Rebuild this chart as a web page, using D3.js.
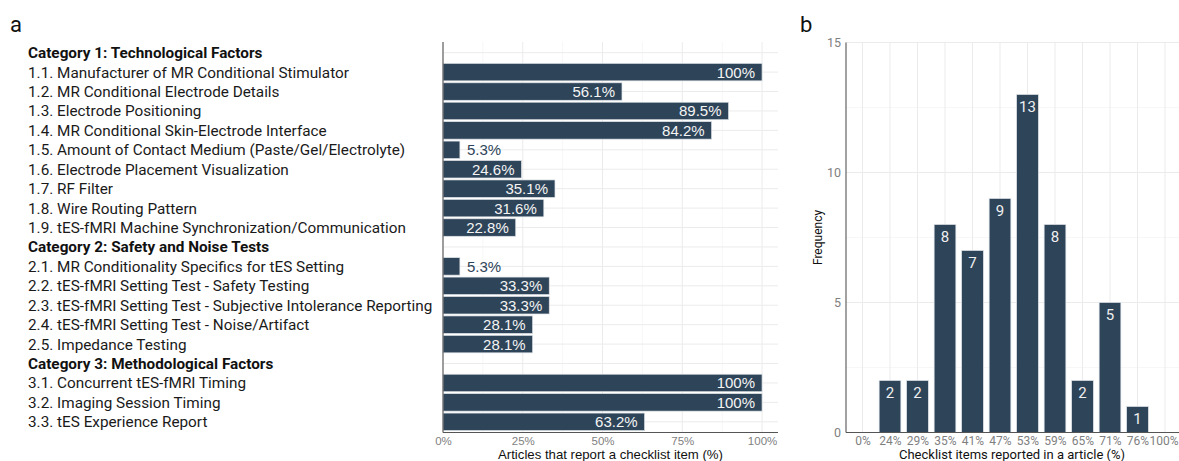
<!DOCTYPE html>
<html>
<head>
<meta charset="utf-8">
<script src="https://cdn.jsdelivr.net/npm/d3@7"></script>
<style>
  html, body { margin: 0; padding: 0; background: #ffffff; }
  svg { display: block; }
</style>
</head>
<body>
<svg id="chart" width="1179" height="461"></svg>
<script>
// ---- Panel a: checklist items (headers carry a null value) ----
const itemLabels = [
  "Category 1: Technological Factors",
  "1.1. Manufacturer of MR Conditional Stimulator",
  "1.2. MR Conditional Electrode Details",
  "1.3. Electrode Positioning",
  "1.4. MR Conditional Skin-Electrode Interface",
  "1.5. Amount of Contact Medium (Paste/Gel/Electrolyte)",
  "1.6. Electrode Placement Visualization",
  "1.7. RF Filter",
  "1.8. Wire Routing Pattern",
  "1.9. tES-fMRI Machine Synchronization/Communication",
  "Category 2: Safety and Noise Tests",
  "2.1. MR Conditionality Specifics for tES Setting",
  "2.2. tES-fMRI Setting Test - Safety Testing",
  "2.3. tES-fMRI Setting Test - Subjective Intolerance Reporting",
  "2.4. tES-fMRI Setting Test - Noise/Artifact",
  "2.5. Impedance Testing",
  "Category 3: Methodological Factors",
  "3.1. Concurrent tES-fMRI Timing",
  "3.2. Imaging Session Timing",
  "3.3. tES Experience Report"
];
const itemPercent = [
  null, 100, 56.1, 89.5, 84.2, 5.3, 24.6, 35.1, 31.6, 22.8,
  null, 5.3, 33.3, 33.3, 28.1, 28.1,
  null, 100, 100, 63.2
];
const pctTicks = [0, 25, 50, 75, 100];

// ---- Panel b: histogram of per-article reporting ----
const histBins = ["0%", "24%", "29%", "35%", "41%", "47%", "53%", "59%", "65%", "71%", "76%", "100%"];
const histCounts = [0, 2, 2, 8, 7, 9, 13, 8, 2, 5, 1, 0];
const freqTicks = [0, 5, 10, 15];

const barFill = "#2e4459";
const barEdge = "#dfe3e7";
const gridMajor = "#ebebeb";
const gridMinor = "#f5f5f5";
const axisCol = "#555555";
const tickCol = "#7f7f7f";
const sansA = "'Liberation Sans', Arial, sans-serif";
const sansB = "Roboto, sans-serif";

const svg = d3.select("#chart");

// ================= Panel a =================
const a = { left: 443, right: 778, top: 42, bottom: 432.5 };
const xA = d3.scaleLinear().domain([0, 105]).range([a.left, a.right]);
const yA = d3.scalePoint().domain(d3.range(itemLabels.length)).range([a.top, a.bottom]).padding(0.55);
const rowStep = yA.step();
const gA = svg.append("g");

// grid
gA.selectAll("line.vminor").data([12.5, 37.5, 62.5, 87.5]).join("line")
  .attr("x1", d => xA(d)).attr("x2", d => xA(d))
  .attr("y1", a.top).attr("y2", a.bottom)
  .attr("stroke", gridMinor).attr("stroke-width", 0.8);
gA.selectAll("line.vmajor").data(pctTicks).join("line")
  .attr("x1", d => xA(d)).attr("x2", d => xA(d))
  .attr("y1", a.top).attr("y2", a.bottom)
  .attr("stroke", gridMajor).attr("stroke-width", 1);
gA.selectAll("line.hmajor").data(d3.range(itemLabels.length)).join("line")
  .attr("x1", a.left).attr("x2", a.right)
  .attr("y1", d => yA(d)).attr("y2", d => yA(d))
  .attr("stroke", gridMajor).attr("stroke-width", 1);

// bars
const rowsA = itemLabels.map((label, i) => ({ i, label, v: itemPercent[i] }));
const barRows = rowsA.filter(r => r.v !== null);
const barH = rowStep * 0.9;
gA.selectAll("rect.bar").data(barRows).join("rect")
  .attr("x", xA(0))
  .attr("y", d => yA(d.i) - barH / 2)
  .attr("width", d => xA(d.v) - xA(0))
  .attr("height", barH)
  .attr("fill", barFill)
  .attr("stroke", barEdge).attr("stroke-width", 0.7);

// value labels: inside the bar end, or just outside for short bars
const fmtPct = v => (v === 100 ? "100" : d3.format(".1f")(v)) + "%";
gA.selectAll("text.val").data(barRows).join("text")
  .attr("x", d => d.v < 10 ? xA(d.v) + 7 : xA(d.v) - 7)
  .attr("y", d => yA(d.i))
  .attr("dy", "0.36em")
  .attr("text-anchor", d => d.v < 10 ? "start" : "end")
  .attr("font-family", sansA)
  .attr("font-size", 15)
  .attr("fill", d => d.v < 10 ? barFill : "#f4f4f4")
  .text(d => fmtPct(d.v));

// row labels
gA.selectAll("text.lab").data(rowsA).join("text")
  .attr("x", 28)
  .attr("y", d => yA(d.i))
  .attr("dy", "0.36em")
  .attr("font-family", sansB)
  .attr("font-size", 15.3)
  .attr("font-weight", d => d.v === null ? "bold" : "normal")
  .attr("fill", d => d.v === null ? "#111111" : "#1a1a1a")
  .text(d => d.label);

// axis lines
gA.append("line").attr("x1", a.left).attr("x2", a.left).attr("y1", a.top).attr("y2", a.bottom)
  .attr("stroke", axisCol).attr("stroke-width", 1.1);
gA.append("line").attr("x1", a.left).attr("x2", a.right).attr("y1", a.bottom).attr("y2", a.bottom)
  .attr("stroke", axisCol).attr("stroke-width", 1.1);

// x ticks
const axA = d3.axisBottom(xA).tickValues(pctTicks).tickFormat(d => d + "%").tickSize(0).tickPadding(4);
gA.append("g").attr("transform", `translate(0,${a.bottom})`).call(axA)
  .call(g => g.select(".domain").remove())
  .call(g => g.selectAll("text").attr("font-family", sansA).attr("font-size", 11.5).attr("fill", tickCol));

gA.append("text")
  .attr("x", (a.left + a.right) / 2).attr("y", 459)
  .attr("text-anchor", "middle")
  .attr("font-family", sansA).attr("font-size", 13.2).attr("fill", "#111111")
  .text("Articles that report a checklist item (%)");

svg.append("text").attr("x", 10).attr("y", 32)
  .attr("font-family", sansB).attr("font-size", 22).attr("fill", "#111111")
  .text("a");

// ================= Panel b =================
const b = { left: 846, right: 1181.5, top: 42.5, bottom: 432.5 };
const xB = d3.scalePoint().domain(histBins).range([b.left, b.right]).padding(0.6);
const yB = d3.scaleLinear().domain([0, 15]).range([b.bottom, b.top]);
const gB = svg.append("g");

gB.selectAll("line.hminor").data([2.5, 7.5, 12.5]).join("line")
  .attr("x1", b.left).attr("x2", b.right)
  .attr("y1", d => yB(d)).attr("y2", d => yB(d))
  .attr("stroke", gridMinor).attr("stroke-width", 0.8);
gB.selectAll("line.hmajor").data(freqTicks).join("line")
  .attr("x1", b.left).attr("x2", b.right)
  .attr("y1", d => yB(d)).attr("y2", d => yB(d))
  .attr("stroke", gridMajor).attr("stroke-width", 1);
gB.selectAll("line.vmajor").data(histBins).join("line")
  .attr("x1", d => xB(d)).attr("x2", d => xB(d))
  .attr("y1", b.top).attr("y2", b.bottom)
  .attr("stroke", gridMajor).attr("stroke-width", 1);

const histRows = histBins.map((bin, i) => ({ bin, n: histCounts[i] })).filter(d => d.n > 0);
const barW = xB.step() * 0.79;
gB.selectAll("rect.bar").data(histRows).join("rect")
  .attr("x", d => xB(d.bin) - barW / 2)
  .attr("y", d => yB(d.n))
  .attr("width", barW)
  .attr("height", d => yB(0) - yB(d.n))
  .attr("fill", barFill)
  .attr("stroke", barEdge).attr("stroke-width", 0.7);

gB.selectAll("text.val").data(histRows).join("text")
  .attr("x", d => xB(d.bin))
  .attr("y", d => yB(d.n) + 12)
  .attr("dy", "0.36em")
  .attr("text-anchor", "middle")
  .attr("font-family", sansB).attr("font-size", 15)
  .attr("fill", "#f0f0f0")
  .text(d => d.n);

gB.append("line").attr("x1", b.left).attr("x2", b.left).attr("y1", b.top).attr("y2", b.bottom)
  .attr("stroke", axisCol).attr("stroke-width", 1.1);
gB.append("line").attr("x1", b.left).attr("x2", b.right).attr("y1", b.bottom).attr("y2", b.bottom)
  .attr("stroke", axisCol).attr("stroke-width", 1.1);

const axBx = d3.axisBottom(xB).tickSize(0).tickPadding(4);
gB.append("g").attr("transform", `translate(0,${b.bottom})`).call(axBx)
  .call(g => g.select(".domain").remove())
  .call(g => g.selectAll("text").attr("font-family", sansB).attr("font-size", 12).attr("fill", tickCol))
  .call(g => g.selectAll(".tick:last-of-type text").attr("dx", -1.5));

const axBy = d3.axisLeft(yB).tickValues(freqTicks).tickSize(0).tickPadding(5);
gB.append("g").attr("transform", `translate(${b.left},0)`).call(axBy)
  .call(g => g.select(".domain").remove())
  .call(g => g.selectAll("text").attr("font-family", sansB).attr("font-size", 12.5).attr("fill", tickCol));

gB.append("text")
  .attr("x", 1012).attr("y", 459)
  .attr("text-anchor", "middle")
  .attr("font-family", sansB).attr("font-size", 13).attr("fill", "#111111")
  .text("Checklist items reported in a article (%)");

gB.append("text")
  .attr("transform", `translate(822,${(b.top + b.bottom) / 2}) rotate(-90)`)
  .attr("text-anchor", "middle")
  .attr("font-family", sansB).attr("font-size", 12).attr("fill", "#111111")
  .text("Frequency");

svg.append("text").attr("x", 800).attr("y", 32)
  .attr("font-family", sansB).attr("font-size", 22).attr("fill", "#111111")
  .text("b");
</script>
</body>
</html>
